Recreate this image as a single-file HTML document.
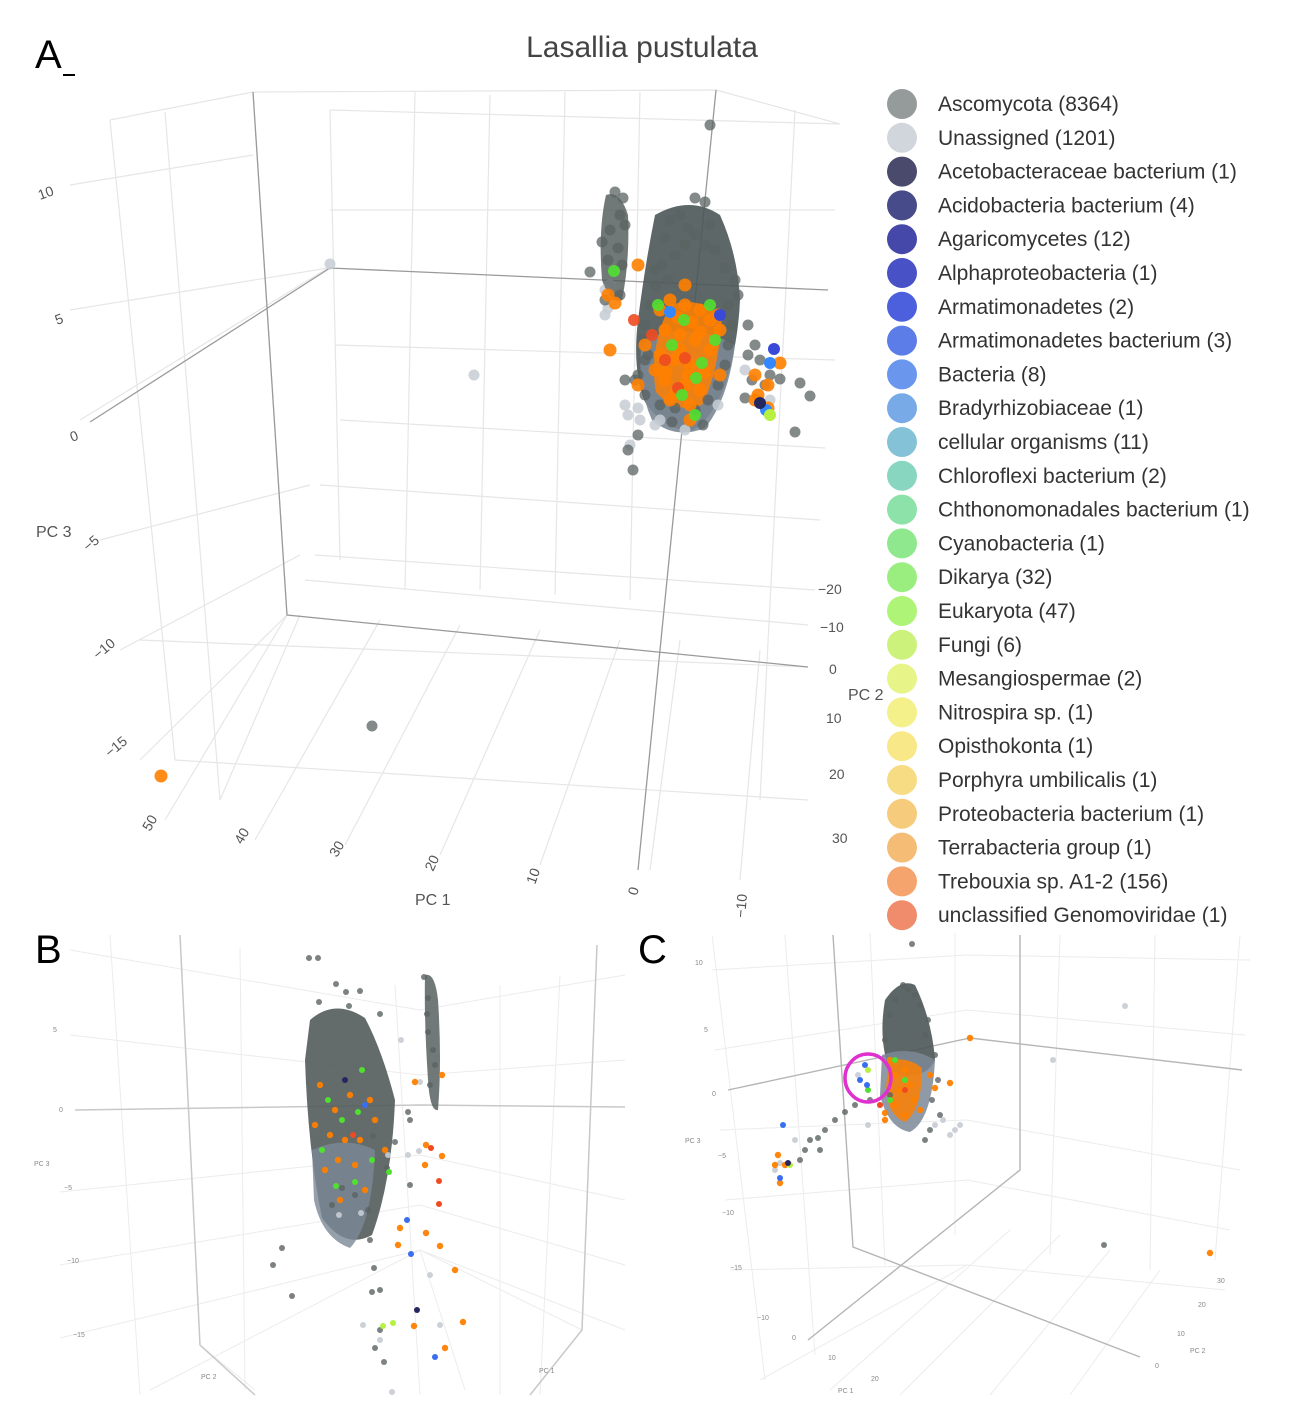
<!DOCTYPE html>
<html><head><meta charset="utf-8">
<style>
body{margin:0;background:#fff;}
svg{display:block;font-family:"Liberation Sans",sans-serif;}
</style></head>
<body>
<svg id="fig" width="1298" height="1420" viewBox="0 0 1298 1420">
<text x="35" y="68" font-size="40" fill="#000">A</text>
<rect x="63" y="74" width="12" height="2" fill="#000"/>
<text x="642" y="57" font-size="30" fill="#444" text-anchor="middle">Lasallia pustulata</text>
<text x="35" y="963" font-size="40" fill="#000">B</text>
<text x="638" y="963" font-size="40" fill="#000">C</text>
<g id="gridA" stroke="#e6e6e6" stroke-width="1.2" fill="none">
<path d="M70 185 L253 155 M70 310 L328 268 M80 420 L328 268 M100 540 L310 485 M120 650 L300 555 M140 760 L287 615"/>
<path d="M110 120 L253 92 M253 92 L716 90 M716 90 L840 124 M330 110 L840 124 M330 210 L835 210 M335 345 L835 360 M340 420 L825 448 M320 485 L820 520 M315 555 L815 590 M305 580 L808 625"/>
<path d="M110 120 L175 760 M165 112 L220 800 M253 92 L287 615 M330 110 L340 560 M415 92 L405 590 M490 95 L480 590 M565 92 L555 595 M640 92 L630 600 M795 110 L760 800"/>
<path d="M175 760 L808 800 M140 640 L808 667 M220 800 L300 615 M165 820 L287 615 M255 840 L380 620 M345 845 L460 625 M440 855 L540 630 M540 865 L620 640 M740 880 L760 650 M650 870 L680 640"/>
</g>
<g stroke="#9a9a9a" stroke-width="1.3" fill="none">
<path d="M90 422 L330 268 L828 290 M253 92 L287 615 L808 667 M716 90 L638 870"/>
</g>
<g font-size="14" fill="#555">
<text transform="translate(40,200) rotate(-20)">10</text>
<text transform="translate(57,325) rotate(-20)">5</text>
<text transform="translate(72,442) rotate(-20)">0</text>
<text transform="translate(88,552) rotate(-40)">−5</text>
<text transform="translate(98,660) rotate(-40)">−10</text>
<text transform="translate(110,758) rotate(-40)">−15</text>
<text x="36" y="537" font-size="16">PC 3</text>
<text transform="translate(150,832) rotate(-60)">50</text>
<text transform="translate(242,845) rotate(-60)">40</text>
<text transform="translate(337,858) rotate(-60)">30</text>
<text transform="translate(433,872) rotate(-65)">20</text>
<text transform="translate(535,885) rotate(-70)">10</text>
<text transform="translate(637,896) rotate(-75)">0</text>
<text transform="translate(745,918) rotate(-85)">−10</text>
<text x="415" y="905" font-size="16">PC 1</text>
<text x="818" y="594">−20</text>
<text x="820" y="632">−10</text>
<text x="829" y="674">0</text>
<text x="826" y="723">10</text>
<text x="829" y="779">20</text>
<text x="832" y="843">30</text>
<text x="848" y="700" font-size="16">PC 2</text>
</g>
<g id="gridB" stroke="#ececec" stroke-width="1" fill="none">
<path d="M180 935 L200 1345 M110 935 L140 1395 M240 948 L245 1390 M395 985 L420 1395 M500 985 L500 1395 M560 975 L540 1395 M597 945 L582 1330"/>
<path d="M70 950 L420 1010 L625 975 M70 1035 L420 1075 L625 1060 M60 1192 L420 1155 L625 1200 M60 1265 L420 1205 L625 1265 M60 1338 L420 1250 L625 1330 M200 1345 L255 1390 M420 1250 L582 1330 M420 1250 L465 1390 M150 1390 L420 1250"/>
</g>
<g stroke="#c8c8c8" stroke-width="1.5" fill="none">
<path d="M75 1110 L420 1105 L625 1107 M180 935 L200 1345 L255 1395 M597 945 L582 1330 L530 1395"/>
</g>
<g font-size="7" fill="#888">
<text x="53" y="1032">5</text><text x="59" y="1112">0</text><text x="64" y="1190">−5</text>
<text x="67" y="1263">−10</text><text x="73" y="1337">−15</text>
<text x="34" y="1166">PC 3</text><text x="201" y="1379">PC 2</text><text x="539" y="1373">PC 1</text>
</g>
<g id="gridC" stroke="#ececec" stroke-width="1" fill="none">
<path d="M712 935 L765 1380 M785 935 L815 1355 M870 933 L885 1265 M955 933 L955 1235 M1060 935 L1050 1255 M1155 935 L1150 1270 M1240 935 L1215 1260"/>
<path d="M712 970 L967 955 L1250 960 M715 1050 L967 1010 L1245 1035 M720 1130 L967 1120 L1240 1170 M725 1200 L967 1180 L1230 1230 M730 1270 L967 1265 L1225 1290 M760 1380 L967 1265 M830 1390 L1010 1230 M900 1395 L1060 1235 M990 1395 L1110 1250 M1070 1395 L1160 1270"/>
</g>
<g stroke="#b5b5b5" stroke-width="1.4" fill="none">
<path d="M728 1090 L970 1038 L1242 1070 M833 935 L853 1247 L1140 1357 M1020 935 L1020 1170 L808 1340"/>
</g>
<g font-size="7" fill="#888">
<text x="695" y="965">10</text><text x="704" y="1032">5</text><text x="712" y="1096">0</text>
<text x="718" y="1158">−5</text><text x="722" y="1215">−10</text><text x="730" y="1270">−15</text>
<text x="685" y="1143">PC 3</text><text x="757" y="1320">−10</text><text x="792" y="1340">0</text>
<text x="828" y="1360">10</text><text x="871" y="1381">20</text><text x="838" y="1393">PC 1</text>
<text x="1217" y="1283">30</text><text x="1198" y="1307">20</text><text x="1177" y="1336">10</text>
<text x="1155" y="1368">0</text><text x="1190" y="1353">PC 2</text>
</g>
<g id="marks"></g>
<ellipse cx="868" cy="1078" rx="23" ry="24" fill="none" stroke="#e030d0" stroke-width="3.5"/>
<g id="legend"></g>
</svg>
<script>
// ---------- legend data ----------
const legendLabels = ["Ascomycota (8364)","Unassigned (1201)","Acetobacteraceae bacterium (1)","Acidobacteria bacterium (4)","Agaricomycetes (12)","Alphaproteobacteria (1)","Armatimonadetes (2)","Armatimonadetes bacterium (3)","Bacteria (8)","Bradyrhizobiaceae (1)","cellular organisms (11)","Chloroflexi bacterium (2)","Chthonomonadales bacterium (1)","Cyanobacteria (1)","Dikarya (32)","Eukaryota (47)","Fungi (6)","Mesangiospermae (2)","Nitrospira sp. (1)","Opisthokonta (1)","Porphyra umbilicalis (1)","Proteobacteria bacterium (1)","Terrabacteria group (1)","Trebouxia sp. A1-2 (156)","unclassified Genomoviridae (1)"];
const legendColors = ["#959b9a","#d1d5dc","#4a4a6c","#474b8a","#4548a8","#4852c6","#4c60de","#5c7ce8","#6a96ee","#78aae8","#84c2d8","#88d6c0","#8ce2a8","#90e88e","#9aee80","#aef476","#ccf27c","#e6f488","#f4f08a","#f8e888","#f8dc84","#f6cc7c","#f4bc74","#f4a46c","#f08c6c"];

// ---------- panel data (PC-projection units) ----------
// Panel A
const aDark = [[61.5,19.2],[62.3,19.8],[62.0,21.5],[61.0,23.0],[62.5,22.5],[60.2,24.2],[61.8,24.8],[60.8,26.0],[62.2,26.5],[59.0,27.2],[61.0,28.5],[60.5,30.0],[62,29.5],[66.5,23.8],[68,21.5],[69.5,19.8],[70.5,20.2],[68.8,22.8],[69.5,23.5],[66.2,26.5],[67.5,25.5],[68.5,24.5],[70.5,24.5],[71.5,25.0],[72.5,26.8],[73.5,28.0],[73.8,29.5],[72.8,30.5],[65.5,28.5],[65,30.5],[64.5,32.5],[64.2,34.0],[64.8,35.5],[63.8,37.5],[64.5,36.0],[63.5,38.0],[62.5,38],[64.5,39.5],[66,40.5],[67.5,40.8],[69.5,41.0],[70.8,40.0],[71.8,38.5],[72.5,36.5],[72.8,34.5],[73.2,32.5],[63.8,43.5],[63.3,47.0],[62.8,45],[74.8,32.5],[75.5,34.5],[74.8,35.5],[76.0,36.0],[77.0,37.5],[76.5,38.5],[74.5,39.8],[75.2,38.0],[80.0,38.3],[81.0,39.6],[79.5,43.2],[78,37.9],[37.2,72.6],[71.0,12.5],[67,22],[71,22.5],[65.5,27],[66.8,28],[67.2,42.2],[70.3,42.5]];
const aLight = [[33,26.4],[47.4,37.5],[60.5,31.5],[62.8,41.5],[62.5,40.5],[63.8,40.8],[65.5,42.5],[63,44.5],[68.5,43],[66,42],[74.5,37],[77,40],[61,28.5],[60.8,30.8],[64,42],[60.5,29],[71.8,40.5]];
const aOrange = [[66,31],[67,30],[68.5,30.5],[70,31],[71,32],[72,33],[66.5,33],[68,33.5],[69.5,34],[71,35],[66,35.5],[67.5,36],[69,36.5],[70.5,37.2],[66.5,38],[68.5,38.5],[70,39],[65.5,37],[67,40],[69,40.5],[68,35],[70,33.2],[64.5,34.5],[71.8,31.5],[68.5,28.5],[69,42],[66.6,37.2],[72,37.5],[67.8,31.8],[69.2,32.2],[68.8,37.5],[67.6,39.2],[63.8,26.5],[61.0,35.0],[60.8,29.5],[61.5,30.3],[63.8,38.5],[75.5,37.5],[76.8,38.5],[78,36.3],[75.8,39.5],[75.5,40],[16.1,77.6],[76.8,40.8]];
const aRed = [[63.4,32.0],[65.2,33.5],[68.5,35.8],[67.8,38.8],[66.5,36]];
const aGreen = [[65.8,30.5],[68.4,32.0],[71.5,34.0],[67.2,34.5],[70.2,36.3],[68.2,39.5],[69.6,37.8],[71,30.5],[61.4,27.1],[69.5,41.5]];
const aBlue = [[77.4,34.9],[72,31.5]];
const aSky = [[77,36.3],[76.6,41],[67,31.2]];
const aLime = [[77,41.5]];
const aNavy = [[76,40.3]];
// Panel B
const bDark = [[30.9,95.8],[31.8,95.8],[33.6,98.4],[31.9,100.2],[34.6,99.2],[36.0,99.1],[38.0,101.4],[34.9,100.6],[42.4,97.7],[42.8,99.8],[42.7,101.4],[42.8,103.2],[43.3,105],[43.5,106.5],[43.0,108.5],[41.0,112],[40.8,111.2],[39.5,114.2],[37.3,113.6],[38.7,116.8],[41.0,118.5],[27.3,126.5],[28.2,124.8],[29.2,129.6],[37.0,124],[37.4,126.8],[37.2,129.2],[38.0,129.0],[38.0,133],[37.5,134.8],[38.4,136.2],[36.8,121],[35.5,119.5],[34.2,118.8],[33.2,120.5]];
const bLight = [[42.0,108.2],[38.8,115.5],[40.8,115.5],[41.9,115.1],[33.9,121.5],[36.1,121.3],[36.3,132.5],[39.2,139.2],[38.0,134],[44,132.5],[43,127.5],[40.1,104]];
const bOrange = [[44.2,107.5],[41.5,108.2],[44.2,115.6],[42.6,114.5],[42.5,116.5],[40.0,122.8],[39.8,124.5],[44.0,124.6],[41.4,132.6],[45.5,127],[44.5,134.8],[42.6,123.3],[46.3,132.2],[32.0,108.5],[33.5,111],[34.5,114],[32.5,117],[35.5,116.5],[36.5,119],[33,113.5],[35,109.5],[37.5,112],[31.5,112.5],[34,120],[36,114],[38.5,115],[33.8,116],[37,110]];
const bRed = [[43.1,114.8],[43.9,120.4],[43.9,118.1],[35.3,113.5]];
const bBlue = [[40.7,122.0],[41.1,125.4],[43.5,135.7],[36.5,110.5]];
const bNavy = [[41.7,131],[34.5,108]];
const bGreen = [[38.9,117.2],[32.8,110],[34.2,112],[35.8,111.2],[32.2,115],[35.5,118.2],[33.6,118.6],[37.2,116],[36.2,107]];
const bLime = [[38.3,132.6],[39.3,132.3]];
// Panel C
const cDark = [[91.2,94.4],[90.3,98.5],[90.8,99],[91.5,99.5],[89.5,100],[92,100.5],[89,101.5],[92.8,102],[92.5,103.5],[88.5,104],[93.5,105.5],[93.8,108],[93.2,110],[94,111.5],[93,113],[92.5,114],[89,109.5],[87,110],[85.5,110.5],[84.5,111.2],[83.5,112],[82.5,113],[81.8,113.8],[81,114],[80.5,115],[80,116],[82,115],[110.4,124.5]];
const cLight = [[112.5,100.6],[105.3,106],[94.3,112],[95.5,113],[96,112.5],[95,113.5],[93.5,112.5],[78,116.3],[77.5,117],[79.5,114],[85.8,107.5],[86.8,112.5]];
const cOrange = [[97,103.8],[121,125.3],[89,106],[89.5,107.5],[90.5,107],[90,109],[91,108.5],[89.5,110.5],[90.5,111.5],[91.5,110],[88.5,112],[92,111],[95,108.3],[93.5,108.8],[93,107.5],[77.8,115.5],[77.5,116.5],[78.5,116.5],[78,118.3],[88.5,111.3]];
const cRed = [[90.5,109],[88,110.5]];
const cGreen = [[89.5,106],[90.5,108],[86.8,109],[89,110]];
const cBlue = [[86.5,106.5],[86,108],[86.7,108.5],[78.3,112.5],[78,117.8]];
const cLime = [[79,116.5],[86.8,107]];
const cNavy = [[78.8,116.3]];

const SVGNS = "http://www.w3.org/2000/svg";
const marks = document.getElementById('marks');
// axis functions (projection units -> pixels)
function sx(v){ return v*10; }
function sy(v){ return v*10; }

function blob(d, fill, op, name){
  const e = document.createElementNS(SVGNS,'path');
  e.setAttribute('d', d);
  e.setAttribute('fill',fill); e.setAttribute('opacity',op);
  
  
  marks.appendChild(e);
}
function series(arr, color, r, op, name){
  const g = document.createElementNS(SVGNS,'g');
  
  
  arr.forEach(p=>{
    const c = document.createElementNS(SVGNS,'circle');
    c.setAttribute('cx', sx(p[0])); c.setAttribute('cy', sy(p[1])); c.setAttribute('r', r);
    c.setAttribute('fill', color); c.setAttribute('fill-opacity', op);
    
    
    g.appendChild(c);
  });
  marks.appendChild(g);
}
// density backdrops for the dense clusters
blob('M655 215 Q690 195 720 215 Q738 255 740 300 Q738 345 725 385 Q712 420 690 432 Q662 428 645 402 Q632 370 638 320 Q645 265 655 215Z','#4d5756',0.9,'cluster-a-density');
blob('M642 340 Q690 320 735 345 Q728 400 705 428 Q675 440 652 420 Q636 385 642 340Z','#7b8896',0.9,'cluster-a-density-lower');
blob('M670 305 Q700 295 722 318 Q718 375 702 405 Q676 415 656 392 Q648 350 670 305Z','#ff8000',0.85,'cluster-a-orange-core');
blob('M606 195 Q620 190 628 215 Q630 260 622 300 Q610 305 602 280 Q598 230 606 195Z','#4d5756',0.8,'cluster-a-left-density');
blob('M310 1020 Q335 998 365 1018 Q382 1050 395 1100 Q392 1180 372 1235 Q345 1250 322 1218 Q308 1150 305 1060Z','#4d5756',0.88,'cluster-b-density');
blob('M312 1150 Q345 1135 375 1150 Q372 1225 350 1248 Q322 1238 314 1200Z','#7b8896',0.8,'cluster-b-density-lower');
blob('M425 975 Q435 972 438 1000 Q442 1060 438 1110 Q430 1112 428 1080 Q424 1020 425 975Z','#4d5756',0.8,'cluster-b-right-column');
blob('M885 1000 Q900 978 915 985 Q932 1020 935 1060 Q925 1082 890 1072 Q878 1040 885 1000Z','#4d5756',0.9,'cluster-c-density');
blob('M882 1055 Q910 1045 935 1060 Q932 1120 910 1132 Q888 1128 880 1095Z','#7b8896',0.85,'cluster-c-density-lower');
blob('M888 1062 Q905 1055 922 1068 Q922 1110 905 1122 Q888 1115 886 1090Z','#ff8000',0.85,'cluster-c-orange-core');

series(aLight,'#c6ccd4',5.5,0.85,'unassigned-a');
series(aDark,'#5a6361',5.5,0.75,'ascomycota-a');
series(aOrange,'#ff8000',6.5,0.9,'trebouxia-a');
series(aRed,'#f04a20',6,0.9,'genomoviridae-a');
series(aGreen,'#50e030',6,0.9,'eukaryota-a');
series(aBlue,'#3a4ad8',6,1,'agaricomycetes-a');
series(aSky,'#3388ff',6,1,'bacteria-a');
series(aLime,'#b6f040',6,1,'fungi-a');
series(aNavy,'#252860',6,1,'acetobacteraceae-a');

series(bLight,'#c6ccd4',3,0.9,'unassigned-b');
series(bDark,'#5a6361',3,0.8,'ascomycota-b');
series(bOrange,'#ff8000',3.2,0.95,'trebouxia-b');
series(bRed,'#f04a20',3,1,'genomoviridae-b');
series(bGreen,'#50e030',3,1,'eukaryota-b');
series(bBlue,'#3a6ef0',3,1,'bacteria-b');
series(bNavy,'#252860',3,1,'acetobacteraceae-b');
series(bLime,'#b6f040',3,1,'fungi-b');

series(cLight,'#c6ccd4',3,0.9,'unassigned-c');
series(cDark,'#5a6361',3,0.8,'ascomycota-c');
series(cOrange,'#ff8000',3.2,0.95,'trebouxia-c');
series(cRed,'#f04a20',3,1,'genomoviridae-c');
series(cGreen,'#50e030',3,1,'eukaryota-c');
series(cBlue,'#3a6ef0',3,1,'bacteria-c');
series(cLime,'#b6f040',3,1,'fungi-c');
series(cNavy,'#252860',3,1,'acetobacteraceae-c');

// legend
const lg = document.getElementById('legend');
legendLabels.forEach((t,i)=>{
  const y = 104 + i*33.8;
  const g = document.createElementNS(SVGNS,'g');
  
  
  const c = document.createElementNS(SVGNS,'circle');
  c.setAttribute('cx',902); c.setAttribute('cy',y); c.setAttribute('r',15);
  c.setAttribute('fill',legendColors[i]);
  
  
  const tx = document.createElementNS(SVGNS,'text');
  tx.setAttribute('x',938); tx.setAttribute('y',y+7);
  tx.setAttribute('font-size',21); tx.setAttribute('fill','#333');
  tx.textContent = t;
  
  
  g.appendChild(c); g.appendChild(tx); lg.appendChild(g);
});
</script>
</body></html>
